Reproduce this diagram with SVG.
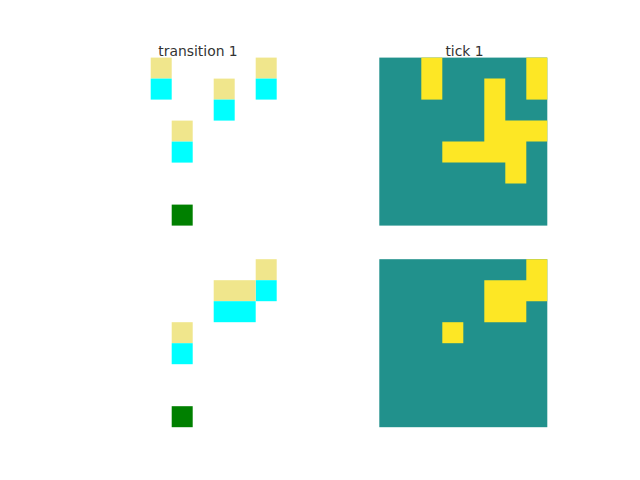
<svg xmlns="http://www.w3.org/2000/svg" width="640" height="480" viewBox="0 0 640 480">
<style>
.t{font-family:"DejaVu Sans",sans-serif;font-size:13.9px;fill:#333;text-anchor:middle}
.k{fill:#f0e68c}.c{fill:#00ffff}.g{fill:#008000}.v{fill:#21918c}.y{fill:#fde725}
</style>
<rect width="640" height="480" fill="#ffffff"/>
<g id="panel-transition-top">
<text class="t" x="198" y="56">transition 1</text>
<rect class="k" x="150.7" y="57.6" width="21" height="21"/>
<rect class="c" x="150.7" y="78.6" width="21" height="21"/>
<rect class="k" x="213.7" y="78.6" width="21" height="21"/>
<rect class="c" x="213.7" y="99.6" width="21" height="21"/>
<rect class="k" x="255.7" y="57.6" width="21" height="21"/>
<rect class="c" x="255.7" y="78.6" width="21" height="21"/>
<rect class="k" x="171.7" y="120.6" width="21" height="21"/>
<rect class="c" x="171.7" y="141.6" width="21" height="21"/>
<rect class="g" x="171.7" y="204.6" width="21" height="21"/>
</g>
<g id="panel-tick-top">
<text class="t" x="464.5" y="56">tick 1</text>
<rect class="v" x="379.3" y="57.6" width="168" height="168"/>
<rect class="y" x="421.3" y="57.6" width="21" height="42"/>
<rect class="y" x="526.3" y="57.6" width="21" height="42"/>
<path class="y" d="M484.3 78.6H505.3V120.6H547.3V141.6H526.3V183.6H505.3V162.6H442.3V141.6H484.3Z"/>
</g>
<g id="panel-transition-bottom">
<rect class="k" x="255.7" y="259.2" width="21" height="21"/>
<rect class="c" x="255.7" y="280.2" width="21" height="21"/>
<rect class="k" x="213.7" y="280.2" width="42" height="21"/>
<rect class="c" x="213.7" y="301.2" width="42" height="21"/>
<rect class="k" x="171.7" y="322.2" width="21" height="21"/>
<rect class="c" x="171.7" y="343.2" width="21" height="21"/>
<rect class="g" x="171.7" y="406.2" width="21" height="21"/>
</g>
<g id="panel-tick-bottom">
<rect class="v" x="379.3" y="259.2" width="168" height="168"/>
<path class="y" d="M526.3 259.2H547.3V301.2H526.3V322.2H484.3V280.2H526.3Z"/>
<rect class="y" x="442.3" y="322.2" width="21" height="21"/>
</g>
<g id="connectors"/>
</svg>
